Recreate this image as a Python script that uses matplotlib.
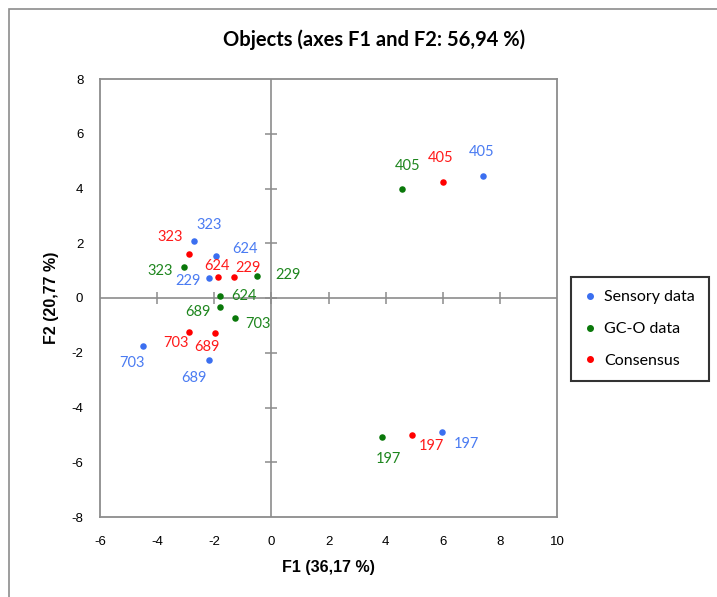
import numpy as np
import matplotlib.pyplot as plt
from matplotlib.patches import Rectangle
from matplotlib.lines import Line2D

# objects (product codes)
labels = ['405', '197', '323', '624', '229', '703', '689']

# coordinates on F1 / F2 for each dataset
sens_f1 = [7.41, 5.97, -2.70, -1.93, -2.17, -4.49, -2.17]
sens_f2 = [4.46, -4.89, 2.09, 1.55, 0.74, -1.75, -2.26]
gco_f1 = [4.56, 3.87, -3.06, -1.81, -0.50, -1.27, -1.81]
gco_f2 = [3.98, -5.07, 1.14, 0.07, 0.82, -0.72, -0.33]
cons_f1 = [6.02, 4.92, -2.90, -1.86, -1.32, -2.90, -1.96]
cons_f2 = [4.23, -4.99, 1.62, 0.78, 0.78, -1.23, -1.28]

series_names = ['Sensory data', 'GC-O data', 'Consensus']
dot_colors = ['#3B6FF0', '#0A780A', '#FF0000']
text_colors = ['#4A7BF2', '#1E861E', '#FF1A1A']

# label offsets in pixels (dx, dy) per product, one dict per series
label_offsets = [
    {'405': (-1, 24), '197': (25, -12), '323': (15, 16), '624': (29, 7),
     '229': (-21, -3), '703': (-11, -17), '689': (-15, -18)},
    {'405': (6, 23), '197': (7, -22), '323': (-24, -4), '229': (31, 1),
     '703': (23, -6), '624': (24, 0), '689': (-22, -5)},
    {'405': (-3, 24), '197': (20, -11), '323': (-18, 17), '229': (14, 9),
     '624': (-1, 11), '703': (-13, -11), '689': (-8, -14)},
]

xs = [sens_f1, gco_f1, cons_f1]
ys = [sens_f2, gco_f2, cons_f2]

fig = plt.figure(figsize=(7.17, 5.97), dpi=100)
ax = fig.add_axes([100/717, 1-517/597, 457/717, 438/597])

# figure frame (only top and left edges visible in the reference)
fig.patches.append(Rectangle((9/717, -0.1), 1.2, 1 - 9/597 + 0.1, transform=fig.transFigure,
                             fill=False, edgecolor='#8c8c8c', linewidth=1.2))

ax.set_xlim(-6, 10)
ax.set_ylim(-8, 8)
xt = np.arange(-6, 11, 2)
yt = np.arange(-8, 9, 2)
ax.set_xticks(xt)
ax.set_yticks(yt)
ax.set_xticklabels([str(v) for v in xt], fontfamily='Liberation Sans', fontsize=9.5)
ax.set_yticklabels([str(v) for v in yt], fontfamily='Liberation Sans', fontsize=9.5)
ax.tick_params(axis='x', length=0, pad=14)
ax.tick_params(axis='y', length=0, pad=12)
for s in ax.spines.values():
    s.set_color('#8c8c8c')
    s.set_linewidth(1.3)

# centre axes with crossing tick marks
ax.axhline(0, color='#8c8c8c', lw=1.2, zorder=1)
ax.axvline(0, color='#8c8c8c', lw=1.2, zorder=1)
ax.plot(xt[1:-1], np.zeros(len(xt) - 2), ls='none', marker='|', ms=8, mew=1.1, color='#8c8c8c', zorder=1)
ax.plot(np.zeros(len(yt) - 2), yt[1:-1], ls='none', marker='_', ms=8, mew=1.1, color='#8c8c8c', zorder=1)

for i in range(3):
    ax.scatter(xs[i], ys[i], s=22, color=dot_colors[i], zorder=3, linewidths=0)
    for j, lab in enumerate(labels):
        dx, dy = label_offsets[i][lab]
        ax.annotate(lab, (xs[i][j], ys[i][j]), xytext=(dx, dy), textcoords='offset pixels',
                    ha='center', va='center', color=text_colors[i], fontsize=10.5,
                    fontfamily='Lato', zorder=4)

fig.text(374/717, 1-40/597, 'Objects (axes F1 and F2: 56,94 %)', fontfamily='Lato',
         fontweight='bold', fontsize=14.5, ha='center', va='center')
ax.set_xlabel('F1 (36,17 %)', fontfamily='Liberation Sans', fontweight='bold', fontsize=11.5, labelpad=8)
ax.set_ylabel('F2 (20,77 %)', fontfamily='Liberation Sans', fontweight='bold', fontsize=11.5)
ax.yaxis.set_label_coords((59-100)/457, 0.5)

handles = [Line2D([], [], ls='none', marker='o', ms=4, color=c) for c in dot_colors]
leg = fig.legend(handles, series_names, loc='center', bbox_to_anchor=(640/717, 1-329/597),
                 frameon=True, fancybox=False, edgecolor='black', handlelength=0.6,
                 handletextpad=0.6, labelspacing=1.1, borderpad=0.85,
                 prop={'family': 'Lato', 'size': 11.5})
leg.get_frame().set_linewidth(1.5)

fig.savefig('out.png', dpi=100)
